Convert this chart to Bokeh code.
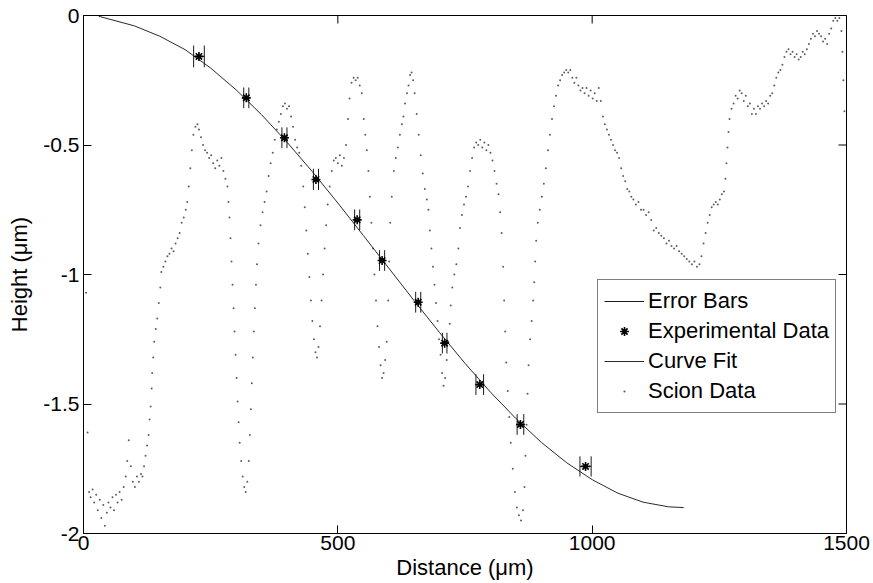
import math
from bokeh.plotting import figure
from bokeh.models import (Range1d, FixedTicker, Legend, LegendItem)
from bokeh.embed import file_html
from bokeh.resources import INLINE

# ---------------- data ----------------
exp_x = [227, 320, 395, 457, 538, 587, 658, 710, 779, 859, 987]
exp_y = [-0.158, -0.318, -0.472, -0.633, -0.789, -0.946, -1.107, -1.265, -1.425, -1.579, -1.741]
err_x = [10.5, 5, 5, 5, 5, 5, 5, 4.5, 7.5, 6.5, 11]
err_y = [0.042, 0.04, 0.04, 0.041, 0.04, 0.04, 0.04, 0.04, 0.04, 0.04, 0.039]

fit_x = [30, 100, 150, 200, 250, 300, 350, 400, 450, 500, 550, 600, 650, 700,
         750, 800, 850, 900, 950, 1000, 1050, 1100, 1150, 1180]
fit_y = [-0.003, -0.040, -0.080, -0.132, -0.203, -0.287, -0.383, -0.489, -0.603,
         -0.724, -0.849, -0.975, -1.101, -1.224, -1.343, -1.454, -1.556, -1.648,
         -1.727, -1.792, -1.844, -1.879, -1.897, -1.900]

scion_x = [5, 8, 11, 14, 18, 21, 25, 28, 32, 35, 39, 42, 46, 49, 53, 57, 60, 64, 67, 71,
           75, 79, 83, 86, 89, 93, 97, 101, 105, 109, 113, 116, 119, 122, 125, 128, 130,
           132, 134, 135, 137, 139, 142, 145, 148, 151, 153, 157, 161, 165, 169, 173, 177,
           181, 185, 189, 193, 197, 201, 204, 207, 210, 213, 216, 220, 224, 227, 231, 235,
           239, 243, 247, 251, 255, 259, 263, 267, 271, 275, 279, 283, 285, 287, 289, 291,
           293, 295, 297, 299, 301, 303, 305, 307, 310, 313, 316, 319, 322, 325, 327, 329,
           331, 333, 335, 337, 339, 341, 344, 348, 352, 356, 360, 364, 368, 372, 376, 380,
           384, 388, 392, 396, 400, 404, 408, 412, 416, 420, 424, 428, 432, 435, 438, 441,
           444, 447, 450, 453, 456, 459, 462, 465, 468, 471, 474, 477, 480, 484, 488, 492,
           496, 500, 504, 508, 512, 516, 520, 523, 527, 531, 535, 539, 543, 547, 551, 554,
           557, 560, 563, 566, 569, 572, 575, 578, 581, 584, 587, 590, 593, 596, 599, 601,
           603, 606, 610, 614, 618, 622, 626, 629, 632, 636, 639, 642, 645, 648, 651, 655,
           659, 663, 667, 671, 675, 678, 681, 684, 687, 690, 693, 696, 699, 702, 705, 708,
           711, 714, 717, 720, 722, 725, 729, 733, 737, 740, 744, 748, 752, 756, 760, 764,
           768, 772, 776, 780, 784, 788, 792, 796, 800, 804, 808, 812, 816, 819, 822, 825,
           827, 829, 831, 834, 837, 840, 844, 848, 852, 856, 860, 864, 867, 869, 871, 873,
           875, 878, 881, 884, 886, 888, 890, 893, 897, 901, 905, 909, 913, 917, 921, 925,
           929, 933, 937, 941, 945, 949, 953, 957, 961, 965, 969, 973, 977, 981, 985, 989,
           993, 997, 1001, 1005, 1009, 1013, 1017, 1021, 1025, 1029, 1033, 1037, 1041, 1045,
           1049, 1053, 1057, 1061, 1065, 1069, 1073, 1077, 1081, 1086, 1091, 1096, 1101, 1106,
           1111, 1116, 1121, 1126, 1131, 1136, 1141, 1146, 1151, 1156, 1161, 1166, 1171, 1176,
           1181, 1186, 1191, 1196, 1201, 1206, 1211, 1215, 1219, 1223, 1227, 1231, 1235, 1239,
           1243, 1247, 1251, 1255, 1259, 1262, 1264, 1266, 1268, 1270, 1274, 1278, 1282, 1286,
           1290, 1294, 1298, 1302, 1306, 1310, 1314, 1318, 1322, 1326, 1330, 1334, 1338, 1342,
           1346, 1350, 1354, 1358, 1362, 1366, 1370, 1374, 1378, 1382, 1386, 1390, 1394, 1398,
           1402, 1406, 1410, 1414, 1418, 1422, 1426, 1430, 1434, 1438, 1442, 1446, 1450, 1454,
           1458, 1462, 1466, 1470, 1474, 1478, 1482, 1486, 1490, 1492, 1494, 1496]
scion_y = [-1.07, -1.61, -1.84, -1.86, -1.83, -1.88, -1.85, -1.91, -1.87, -1.94, -1.89, -1.97,
           -1.92, -1.88, -1.90, -1.86, -1.91, -1.85, -1.88, -1.84, -1.87, -1.82, -1.78, -1.72,
           -1.64, -1.74, -1.80, -1.82, -1.78, -1.80, -1.77, -1.78, -1.74, -1.70, -1.66, -1.62,
           -1.56, -1.51, -1.44, -1.38, -1.32, -1.26, -1.21, -1.17, -1.11, -1.05, -0.99, -0.97,
           -0.95, -0.93, -0.92, -0.90, -0.91, -0.88, -0.86, -0.84, -0.80, -0.78, -0.75, -0.72,
           -0.66, -0.59, -0.52, -0.46, -0.43, -0.42, -0.44, -0.47, -0.50, -0.52, -0.53, -0.55,
           -0.54, -0.57, -0.59, -0.56, -0.58, -0.55, -0.60, -0.63, -0.66, -0.72, -0.78, -0.86,
           -0.95, -1.04, -1.13, -1.22, -1.31, -1.40, -1.49, -1.57, -1.65, -1.72, -1.78, -1.82,
           -1.84, -1.80, -1.72, -1.62, -1.52, -1.42, -1.32, -1.22, -1.13, -1.04, -0.96, -0.88,
           -0.81, -0.76, -0.72, -0.68, -0.62, -0.57, -0.53, -0.48, -0.44, -0.41, -0.38, -0.35,
           -0.34, -0.36, -0.35, -0.39, -0.43, -0.48, -0.51, -0.53, -0.58, -0.66, -0.74, -0.83,
           -0.92, -1.01, -1.10, -1.18, -1.25, -1.30, -1.32, -1.28, -1.20, -1.10, -1.00, -0.90,
           -0.81, -0.73, -0.66, -0.60, -0.56, -0.55, -0.57, -0.54, -0.58, -0.55, -0.50, -0.40,
           -0.32, -0.26, -0.24, -0.25, -0.24, -0.27, -0.30, -0.40, -0.46, -0.52, -0.60, -0.70,
           -0.80, -0.90, -1.00, -1.10, -1.20, -1.28, -1.35, -1.40, -1.38, -1.33, -1.26, -1.10,
           -0.95, -0.80, -0.70, -0.60, -0.55, -0.51, -0.46, -0.42, -0.39, -0.34, -0.30, -0.27,
           -0.23, -0.22, -0.25, -0.30, -0.38, -0.46, -0.54, -0.61, -0.67, -0.71, -0.75, -0.83,
           -0.90, -0.97, -1.04, -1.11, -1.18, -1.25, -1.31, -1.38, -1.43, -1.40, -1.33, -1.26,
           -1.19, -1.12, -1.05, -1.00, -0.96, -0.90, -0.82, -0.77, -0.73, -0.70, -0.66, -0.60,
           -0.55, -0.51, -0.49, -0.50, -0.48, -0.51, -0.49, -0.52, -0.50, -0.53, -0.56, -0.60,
           -0.65, -0.69, -0.76, -0.84, -0.97, -1.10, -1.22, -1.34, -1.45, -1.55, -1.65, -1.75,
           -1.84, -1.90, -1.93, -1.95, -1.91, -1.82, -1.70, -1.58, -1.46, -1.35, -1.25, -1.18,
           -1.10, -1.03, -0.95, -0.87, -0.80, -0.75, -0.70, -0.65, -0.59, -0.52, -0.46, -0.40,
           -0.35, -0.31, -0.27, -0.25, -0.23, -0.22, -0.21, -0.22, -0.21, -0.24, -0.26, -0.24,
           -0.27, -0.29, -0.28, -0.30, -0.28, -0.31, -0.29, -0.32, -0.30, -0.33, -0.28, -0.33,
           -0.39, -0.42, -0.44, -0.46, -0.48, -0.50, -0.52, -0.53, -0.55, -0.59, -0.62, -0.64,
           -0.67, -0.68, -0.70, -0.71, -0.73, -0.72, -0.75, -0.75, -0.77, -0.76, -0.79, -0.83,
           -0.82, -0.84, -0.85, -0.86, -0.88, -0.87, -0.89, -0.90, -0.89, -0.91, -0.92, -0.93,
           -0.94, -0.95, -0.96, -0.95, -0.97, -0.96, -0.93, -0.88, -0.84, -0.80, -0.77, -0.74,
           -0.73, -0.72, -0.73, -0.71, -0.69, -0.68, -0.63, -0.57, -0.51, -0.45, -0.40, -0.36,
           -0.34, -0.31, -0.32, -0.29, -0.30, -0.33, -0.31, -0.35, -0.34, -0.38, -0.36, -0.38,
           -0.35, -0.36, -0.34, -0.35, -0.33, -0.34, -0.31, -0.30, -0.27, -0.24, -0.22, -0.21,
           -0.19, -0.16, -0.14, -0.13, -0.15, -0.14, -0.16, -0.15, -0.17, -0.16, -0.14, -0.15,
           -0.13, -0.11, -0.09, -0.07, -0.08, -0.06, -0.07, -0.08, -0.10, -0.09, -0.11, -0.07,
           -0.05, -0.02, -0.01, -0.02, -0.01, -0.06, -0.14, -0.25, -0.37]

x_ticks = [0, 500, 1000, 1500]
x_tick_labels = ["0", "500", "1000", "1500"]
y_ticks = [-2, -1.5, -1, -0.5, 0]
y_tick_labels = ["-2", "-1.5", "-1", "-0.5", "0"]

FONT = "Liberation Sans"
X_MIN, X_MAX = 0, 1500
Y_MIN, Y_MAX = -2, 0

p = figure(width=873, height=583, output_backend="svg", toolbar_location=None,
           x_range=Range1d(X_MIN, X_MAX), y_range=Range1d(Y_MIN, Y_MAX),
           min_border_left=83, min_border_right=27, min_border_top=15, min_border_bottom=50)
p.grid.visible = False
p.outline_line_color = "black"
p.outline_line_width = 1
p.background_fill_color = "white"
p.border_fill_color = "white"

def style_axis(ax, ticks, labels):
    ax.ticker = FixedTicker(ticks=ticks)
    ax.major_label_overrides = {t: l for t, l in zip(ticks, labels)}
    ax.major_tick_in = 8
    ax.major_tick_out = 0
    ax.minor_tick_in = 0
    ax.minor_tick_out = 0
    ax.axis_line_color = "black"
    ax.major_tick_line_color = "black"
    ax.major_label_text_font = FONT
    ax.major_label_text_color = "black"
    ax.major_label_text_font_size = "21px"
    ax.axis_label_text_font = FONT
    ax.axis_label_text_font_style = "normal"
    ax.axis_label_text_color = "black"
    ax.axis_label_text_font_size = "22px"

xa = p.xaxis[0]
style_axis(xa, x_ticks, x_tick_labels)
xa.axis_label = "Distance (μm)"
xa.major_label_standoff = 2
xa.axis_label_standoff = 2

ya = p.yaxis[0]
style_axis(ya, y_ticks, y_tick_labels)
ya.axis_label = "Height (μm)"
ya.major_label_standoff = 4
ya.axis_label_standoff = 8

# inward ticks on the top and right edges of the box (clipped to the frame)
p.scatter(x_ticks, [Y_MAX] * len(x_ticks), marker="dash", angle=math.pi / 2, size=16,
          line_color="black", line_width=1)
p.scatter([X_MAX] * len(y_ticks), y_ticks, marker="dash", size=16,
          line_color="black", line_width=1)

# scion data
r_scion = p.scatter(scion_x, scion_y, marker="dot", size=8, line_color="#5e5e5e",
                    fill_color="#5e5e5e")

# curve fit
r_fit = p.line(fit_x, fit_y, line_color="#2a2a2a", line_width=1)

# error bars: horizontal bar with tall end caps
eb_xs, eb_ys = [], []
for x, y, dx, dy in zip(exp_x, exp_y, err_x, err_y):
    eb_xs += [[x - dx, x + dx], [x - dx, x - dx], [x + dx, x + dx]]
    eb_ys += [[y, y], [y - dy, y + dy], [y - dy, y + dy]]
r_err = p.multi_line(eb_xs, eb_ys, line_color="#1a1a1a", line_width=1)

# experimental data
r_exp = p.scatter(exp_x, exp_y, marker="asterisk", size=9, line_color="black", line_width=1.6)

legend = Legend(items=[
    LegendItem(label="Error Bars", renderers=[r_err]),
    LegendItem(label="Experimental Data", renderers=[r_exp]),
    LegendItem(label="Curve Fit", renderers=[r_fit]),
    LegendItem(label="Scion Data", renderers=[r_scion]),
])
legend.location = (514, 120)
legend.margin = 0
legend.padding = 6
legend.spacing = 0
legend.glyph_width = 40
legend.glyph_height = 22
legend.label_height = 30
legend.label_standoff = 4
legend.label_text_font = FONT
legend.label_text_font_size = "22px"
legend.label_text_color = "black"
legend.border_line_color = "black"
legend.border_line_width = 1
legend.background_fill_color = "white"
legend.background_fill_alpha = 1
p.add_layout(legend, "center")

open("out.html", "w").write(file_html(p, INLINE))
